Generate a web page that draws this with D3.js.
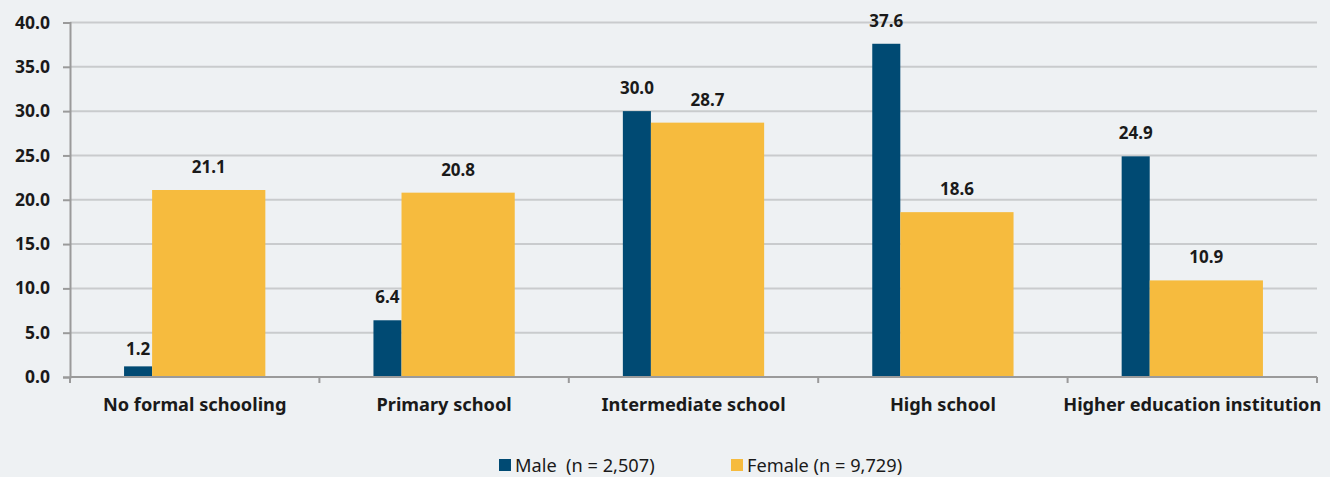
<!DOCTYPE html>
<html>
<head>
<meta charset="utf-8">
<script src="https://cdn.jsdelivr.net/npm/d3@7"></script>
<style>
  html, body { margin: 0; padding: 0; background: #eef1f3; }
  svg { display: block; font-family: "Noto Sans", "Open Sans", sans-serif; }
</style>
</head>
<body>
<div class="chart"></div>
<script>
// data
const categories = ["No formal schooling", "Primary school", "Intermediate school", "High school", "Higher education institution"];
const male = [1.2, 6.4, 30.0, 37.6, 24.9];
const female = [21.1, 20.8, 28.7, 18.6, 10.9];
const seriesNames = ["Male  (n = 2,507)", "Female (n = 9,729)"];
const yTicks = [0, 5, 10, 15, 20, 25, 30, 35, 40];

const width = 1330, height = 477;
const margin = {top: 22.5, right: 13, bottom: 100, left: 70};
const colors = ["#004a73", "#f6bb3e"];

const svg = d3.select(".chart").append("svg")
    .attr("width", width)
    .attr("height", height);

const x = d3.scaleBand()
    .domain(categories)
    .range([margin.left, width - margin.right])
    .padding(0);

const y = d3.scaleLinear()
    .domain([0, 40])
    .range([height - margin.bottom, margin.top]);

// gridlines
svg.append("g")
    .selectAll("line")
    .data(yTicks.slice(1))
    .enter().append("line")
    .attr("x1", margin.left)
    .attr("x2", width - margin.right)
    .attr("y1", d => y(d))
    .attr("y2", d => y(d))
    .attr("stroke", "#c9cbcd")
    .attr("stroke-width", 2);

// bars: thin male, wide female, centred in band
const bw = x.bandwidth();
const maleW = bw * 0.1125, femaleW = bw * 0.454;
const offset = (bw - maleW - femaleW) / 2;

const groups = svg.append("g")
    .selectAll("g")
    .data(categories)
    .enter().append("g")
    .attr("transform", d => "translate(" + (x(d) + offset) + ",0)");

groups.append("rect")
    .attr("x", 0)
    .attr("width", maleW)
    .attr("y", (d, i) => y(male[i]))
    .attr("height", (d, i) => y(0) - y(male[i]))
    .attr("fill", colors[0]);

groups.append("rect")
    .attr("x", maleW)
    .attr("width", femaleW)
    .attr("y", (d, i) => y(female[i]))
    .attr("height", (d, i) => y(0) - y(female[i]))
    .attr("fill", colors[1]);

function labelY(v) {
    // tiny bars get their label a bit closer
    return v < 3 ? y(v) - 11 : y(v) - 17;
}

groups.append("text")
    .attr("x", maleW / 2)
    .attr("y", (d, i) => labelY(male[i]))
    .attr("text-anchor", "middle")
    .attr("font-size", 17)
    .attr("font-weight", "bold")
    .attr("fill", "#1a1a1a")
    .text((d, i) => male[i].toFixed(1));

groups.append("text")
    .attr("x", maleW + femaleW / 2)
    .attr("y", (d, i) => labelY(female[i]))
    .attr("text-anchor", "middle")
    .attr("font-size", 17)
    .attr("font-weight", "bold")
    .attr("fill", "#1a1a1a")
    .text((d, i) => female[i].toFixed(1));

// y axis
const yAxis = svg.append("g")
    .attr("transform", "translate(" + margin.left + ",0)")
    .call(d3.axisLeft(y).tickValues(yTicks).tickFormat(d3.format(".1f")).tickSize(7).tickPadding(13));
yAxis.select(".domain").attr("stroke", "#9a9a9a").attr("stroke-width", 2);
yAxis.selectAll(".tick line").attr("stroke", "#9a9a9a").attr("stroke-width", 2);
yAxis.selectAll("text")
    .attr("font-size", 17.5)
    .attr("font-weight", "bold")
    .attr("fill", "#1a1a1a")
    .attr("font-family", "Noto Sans");

// x axis with ticks at band edges
const xAxis = svg.append("g")
    .attr("transform", "translate(0," + y(0) + ")");
xAxis.append("line")
    .attr("x1", margin.left)
    .attr("x2", width - margin.right)
    .attr("stroke", "#9a9a9a")
    .attr("stroke-width", 2);
xAxis.selectAll(".edge")
    .data(categories.map(d => x(d)).concat([width - margin.right]))
    .enter().append("line")
    .attr("class", "edge")
    .attr("x1", d => d).attr("x2", d => d)
    .attr("y1", 0).attr("y2", 6)
    .attr("stroke", "#9a9a9a")
    .attr("stroke-width", 2);
xAxis.selectAll("text")
    .data(categories)
    .enter().append("text")
    .attr("x", d => x(d) + bw / 2)
    .attr("y", 34)
    .attr("text-anchor", "middle")
    .attr("font-size", 18.2)
    .attr("font-weight", "bold")
    .attr("fill", "#1a1a1a")
    .text(d => d);

// legend
const legendX = [499, 731];
const legend = svg.append("g")
    .selectAll("g")
    .data(seriesNames)
    .enter().append("g")
    .attr("transform", (d, i) => "translate(" + legendX[i] + ",459)");
legend.append("rect")
    .attr("width", 12).attr("height", 12)
    .attr("fill", (d, i) => colors[i]);
legend.append("text")
    .attr("x", 16)
    .attr("y", 12.5)
    .attr("font-size", 18.2)
    .attr("fill", "#1a1a1a")
    .attr("xml:space", "preserve")
    .style("white-space", "pre")
    .text(d => d);
</script>
</body>
</html>
